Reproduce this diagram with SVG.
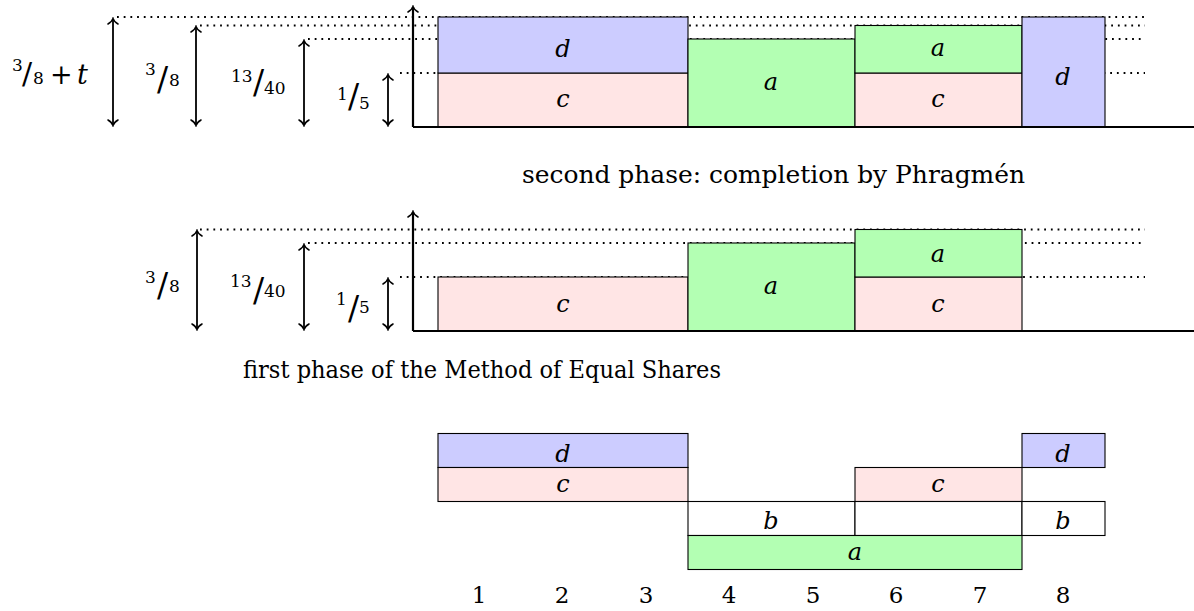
<svg xmlns="http://www.w3.org/2000/svg" width="1194" height="611" viewBox="0 0 1194 611">
<style>
  .bar{stroke:#000;stroke-width:1.1}
  .d{fill:#ccccff}
  .c{fill:#ffe5e5}
  .a{fill:#b3ffb3}
  .w{fill:#ffffff}
  text{font-family:'DejaVu Serif','Liberation Serif','Times New Roman',serif;fill:#000}
  .lbl{font-style:italic;font-size:24px;text-anchor:middle}
  .num{font-size:23px;text-anchor:middle}
  .cap{font-size:24px}
  .dot{stroke:#000;stroke-width:1.8;stroke-dasharray:1.8 4.9;fill:none}
  .ax{stroke:#000;stroke-width:2.2;fill:none}
  .dim{stroke:#000;stroke-width:1.8;fill:none;marker-start:url(#ah);marker-end:url(#ah)}
</style>
<defs>
  <marker id="ah" viewBox="-7 -7 9 14" markerWidth="9" markerHeight="14" refX="0" refY="0" orient="auto-start-reverse" markerUnits="userSpaceOnUse">
    <path d="M-5,-5 C-3.2,-2 -1.2,-0.5 0.6,0 C-1.2,0.5 -3.2,2 -5,5" fill="none" stroke="#000" stroke-width="1.5" stroke-linecap="round"/>
  </marker>
</defs>

<g id="connectors">
  <line class="dot" x1="117" y1="17" x2="1145" y2="17"/>
  <line class="dot" x1="200" y1="25.5" x2="1145" y2="25.5"/>
  <line class="dot" x1="308" y1="39" x2="1145" y2="39"/>
  <line class="dot" x1="400" y1="73" x2="1145" y2="73"/>
  <line class="dot" x1="200" y1="229.5" x2="1145" y2="229.5"/>
  <line class="dot" x1="308" y1="243" x2="1145" y2="243"/>
  <line class="dot" x1="400" y1="277" x2="1145" y2="277"/>
  <line class="dim" x1="113" y1="19" x2="113" y2="125"/>
  <line class="dim" x1="196" y1="27" x2="196" y2="125"/>
  <line class="dim" x1="304" y1="41" x2="304" y2="125"/>
  <line class="dim" x1="388" y1="75" x2="388" y2="125"/>
  <line class="dim" x1="197" y1="231" x2="197" y2="329"/>
  <line class="dim" x1="304" y1="245" x2="304" y2="329"/>
  <line class="dim" x1="388" y1="279" x2="388" y2="329"/>
</g>

<g id="top-chart">
  <g id="top-c1"><rect class="bar c" x="438" y="73" width="250" height="54"/><text class="lbl" x="563" y="107">c</text></g>
  <g id="top-d1"><rect class="bar d" x="438" y="17" width="250" height="56"/><text class="lbl" x="563" y="57">d</text></g>
  <g id="top-a2"><rect class="bar a" x="688" y="39" width="167" height="88"/><text class="lbl" x="771" y="90">a</text></g>
  <g id="top-c3"><rect class="bar c" x="855" y="73" width="167" height="54"/><text class="lbl" x="938" y="107">c</text></g>
  <g id="top-a3"><rect class="bar a" x="855" y="25.5" width="167" height="47.5"/><text class="lbl" x="938" y="56">a</text></g>
  <g id="top-d4"><rect class="bar d" x="1022" y="17" width="83" height="110"/><text class="lbl" x="1063" y="85">d</text></g>
  <path class="ax" d="M413,127 H1194 M413,127 V7" marker-end="url(#ah)"/>
</g>

<g id="top-labels">
  <text font-size="17"><tspan x="12" y="71">3</tspan><tspan font-size="30" x="22" y="84">/</tspan><tspan x="33" y="84">8</tspan><tspan font-size="27" x="50" y="84">+</tspan><tspan font-size="27" font-style="italic" x="77" y="84">t</tspan></text>
  <text font-size="17"><tspan x="145" y="75">3</tspan><tspan font-size="33" x="157" y="91">/</tspan><tspan x="169" y="86">8</tspan></text>
  <text font-size="17"><tspan x="231" y="82">13</tspan><tspan font-size="33" x="253" y="94">/</tspan><tspan x="264" y="94">40</tspan></text>
  <text font-size="17"><tspan x="337" y="100">1</tspan><tspan font-size="33" x="348" y="108">/</tspan><tspan x="359" y="109">5</tspan></text>
</g>

<text class="cap" x="522" y="183" textLength="503" lengthAdjust="spacingAndGlyphs">second phase: completion by Phragmén</text>

<g id="middle-chart">
  <g id="mid-c1"><rect class="bar c" x="438" y="277" width="250" height="54"/><text class="lbl" x="563" y="312">c</text></g>
  <g id="mid-a2"><rect class="bar a" x="688" y="243" width="167" height="88"/><text class="lbl" x="771" y="294">a</text></g>
  <g id="mid-c3"><rect class="bar c" x="855" y="277" width="167" height="54"/><text class="lbl" x="938" y="312">c</text></g>
  <g id="mid-a3"><rect class="bar a" x="855" y="229.5" width="167" height="47.5"/><text class="lbl" x="938" y="262">a</text></g>
  <path class="ax" d="M413,331 H1194 M413,331 V212" marker-end="url(#ah)"/>
</g>

<g id="middle-labels">
  <text font-size="17"><tspan x="145" y="283">3</tspan><tspan font-size="33" x="157" y="297">/</tspan><tspan x="169" y="292">8</tspan></text>
  <text font-size="17"><tspan x="230" y="287">13</tspan><tspan font-size="33" x="253" y="302">/</tspan><tspan x="264" y="297">40</tspan></text>
  <text font-size="17"><tspan x="336" y="305">1</tspan><tspan font-size="33" x="348" y="320">/</tspan><tspan x="359" y="313">5</tspan></text>
</g>

<text class="cap" x="243" y="378" textLength="478" lengthAdjust="spacingAndGlyphs">first phase of the Method of Equal Shares</text>

<g id="bottom-chart">
  <g id="bot-d1"><rect class="bar d" x="438" y="433.5" width="250" height="34"/><text class="lbl" x="563" y="462">d</text></g>
  <g id="bot-d8"><rect class="bar d" x="1022" y="433.5" width="83" height="34"/><text class="lbl" x="1063" y="462">d</text></g>
  <g id="bot-c1"><rect class="bar c" x="438" y="467.5" width="250" height="34"/><text class="lbl" x="563" y="492">c</text></g>
  <g id="bot-c6"><rect class="bar c" x="855" y="467.5" width="167" height="34"/><text class="lbl" x="938" y="492">c</text></g>
  <g id="bot-b4"><rect class="bar w" x="688" y="501.5" width="167" height="34"/><text class="lbl" x="771" y="529">b</text></g>
  <g id="bot-b6"><rect class="bar w" x="855" y="501.5" width="167" height="34"/></g>
  <g id="bot-b8"><rect class="bar w" x="1022" y="501.5" width="83" height="34"/><text class="lbl" x="1063" y="529">b</text></g>
  <g id="bot-a4"><rect class="bar a" x="688" y="535.5" width="334" height="34"/><text class="lbl" x="855" y="560">a</text></g>
</g>

<g id="voters">
  <text class="num" x="479" y="603">1</text>
  <text class="num" x="562" y="603">2</text>
  <text class="num" x="646" y="603">3</text>
  <text class="num" x="729" y="603">4</text>
  <text class="num" x="813" y="603">5</text>
  <text class="num" x="896" y="603">6</text>
  <text class="num" x="980" y="603">7</text>
  <text class="num" x="1063" y="603">8</text>
</g>
</svg>
